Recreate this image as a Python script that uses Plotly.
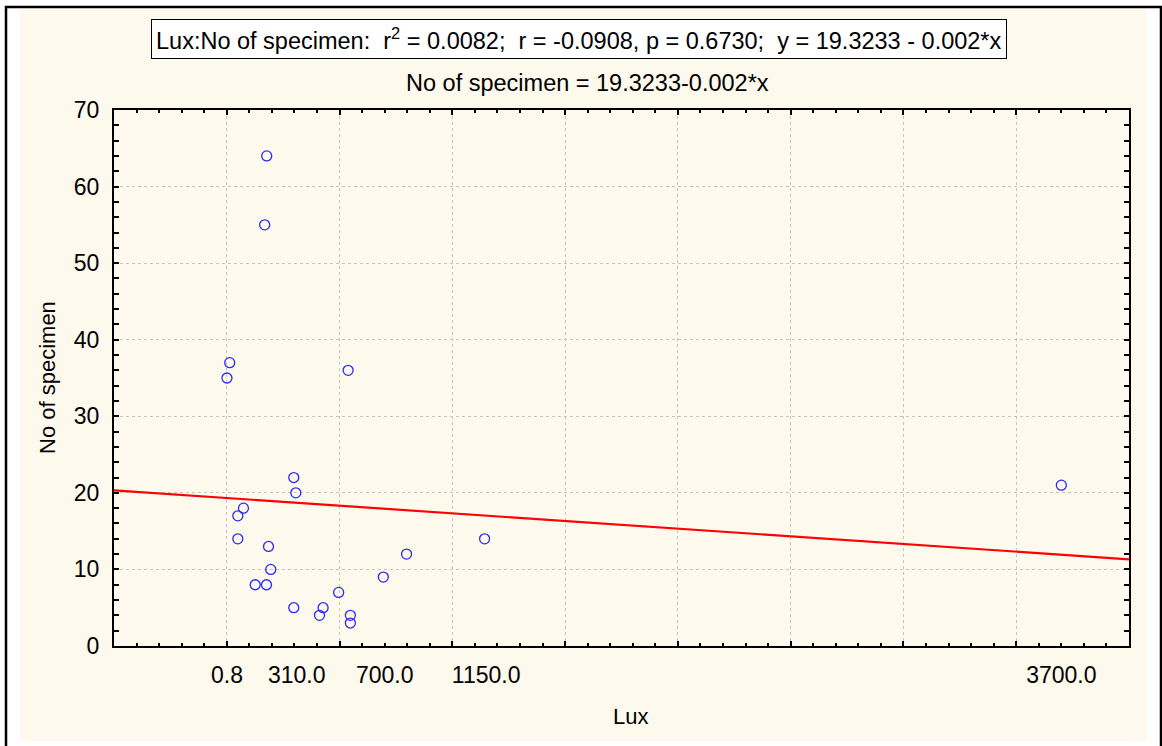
import plotly.graph_objects as go

# Light intensity (lux) and specimen counts for each sampling station
lux = [177, 168, 13, 0.8, 538, 297, 306, 74, 49, 49, 185, 195,
       126, 176, 297, 427, 411, 496, 548, 548, 694, 797, 1143, 3700]
specimens = [64, 55, 37, 35, 36, 22, 20, 18, 17, 14, 13, 10,
             8, 8, 5, 5, 4, 7, 4, 3, 9, 12, 14, 21]

# Fitted regression: No of specimen = 19.3233 - 0.002 * Lux
intercept = 19.3233
slope = -0.002

x_range = [-500, 4000]
y_range = [0, 70]
x_ticks = [0.8, 310.0, 700.0, 1150.0, 3700.0]
x_ticktext = ["0.8", "310.0", "700.0", "1150.0", "3700.0"]

line_x = x_range
line_y = [intercept + slope * v for v in line_x]

W, H = 1162, 746
ML, MR, MT, MB = 114, 33, 110, 100
PW, PH = W - ML - MR, H - MT - MB


def px(xp):
    return (xp - ML) / PW


def py(yp):
    return (H - MB - yp) / PH


FONT = "Liberation Sans, Arial, sans-serif"
NARROW = "Liberation Sans Narrow, Arial Narrow, Liberation Sans, sans-serif"
CREAM = "#FEF9ED"

fig = go.Figure()
fig.add_trace(go.Scatter(
    x=line_x, y=line_y, mode="lines", xaxis="x2",
    line=dict(color="#FF0000", width=2.2), showlegend=False, hoverinfo="skip"))
fig.add_trace(go.Scatter(
    x=lux, y=specimens, mode="markers",
    marker=dict(symbol="circle-open", size=10, color="#2A2AF5",
                line=dict(width=1.3, color="#2A2AF5")),
    showlegend=False))

grid = dict(showgrid=True, gridcolor="#C4C4C4", griddash="dot", gridwidth=1)

fig.update_layout(
    width=W, height=H,
    margin=dict(l=ML, r=MR, t=MT, b=MB),
    paper_bgcolor="white", plot_bgcolor="white",
    font=dict(family=FONT, size=22, color="black"),
    xaxis=dict(range=x_range, tickmode="linear", tick0=0, dtick=500,
               showticklabels=False, ticks="inside", ticklen=5, tickwidth=2,
               tickcolor="black", showline=True, linecolor="black",
               linewidth=2, mirror="allticks", zeroline=False,
               minor=dict(dtick=100, tick0=0, ticks="inside", ticklen=3,
                          tickwidth=1.5, tickcolor="black", showgrid=False),
               **grid),
    xaxis2=dict(range=x_range, overlaying="x", side="bottom",
                tickmode="array", tickvals=x_ticks, ticktext=x_ticktext,
                ticks="", showgrid=False, showline=False, zeroline=False,
                ticklabelstandoff=13,
                tickfont=dict(family=FONT, size=23, color="black")),
    yaxis=dict(range=y_range, tickmode="linear", tick0=0, dtick=10,
               ticks="inside", ticklen=5, tickwidth=2, tickcolor="black",
               showline=True, linecolor="black", linewidth=2,
               mirror="allticks", zeroline=False, ticklabelstandoff=8,
               tickfont=dict(family=FONT, size=23, color="black"),
               minor=dict(dtick=2, tick0=0, ticks="inside", ticklen=3,
                          tickwidth=1.5, tickcolor="black", showgrid=False),
               **grid),
)

# Cream page background and outer frame
fig.add_shape(type="rect", xref="paper", yref="paper", layer="below",
              x0=px(20), x1=px(1147), y0=py(741), y1=py(9),
              fillcolor=CREAM, line=dict(width=0))
fig.add_shape(type="rect", xref="paper", yref="paper", layer="below",
              x0=px(6), x1=px(1161), y0=py(770), y1=py(7),
              fillcolor="rgba(0,0,0,0)", line=dict(color="black", width=2.5))

# Statistics box and fitted-equation heading
fig.add_annotation(
    xref="paper", yref="paper", x=px(579), y=py(39),
    xanchor="center", yanchor="middle", showarrow=False,
    text="Lux:No of specimen:  r<sup>2</sup> = 0.0082;  r = -0.0908, p = 0.6730;  y = 19.3233 - 0.002*x",
    font=dict(family=NARROW, size=23.5, color="black"),
    bgcolor="white", bordercolor="black", borderwidth=1, borderpad=4)
fig.add_annotation(
    xref="paper", yref="paper", x=px(587), y=py(83),
    xanchor="center", yanchor="middle", showarrow=False,
    text="No of specimen = 19.3233-0.002*x",
    font=dict(family=NARROW, size=23.5, color="black"))

# Axis titles
fig.add_annotation(
    xref="paper", yref="paper", x=px(630), y=py(716),
    xanchor="center", yanchor="middle", showarrow=False,
    text="Lux", font=dict(family=FONT, size=22, color="black"))
fig.add_annotation(
    xref="paper", yref="paper", x=px(47), y=py(378),
    xanchor="center", yanchor="middle", showarrow=False, textangle=-90,
    text="No of specimen", font=dict(family=FONT, size=22, color="black"))

fig.write_html("out.html")
